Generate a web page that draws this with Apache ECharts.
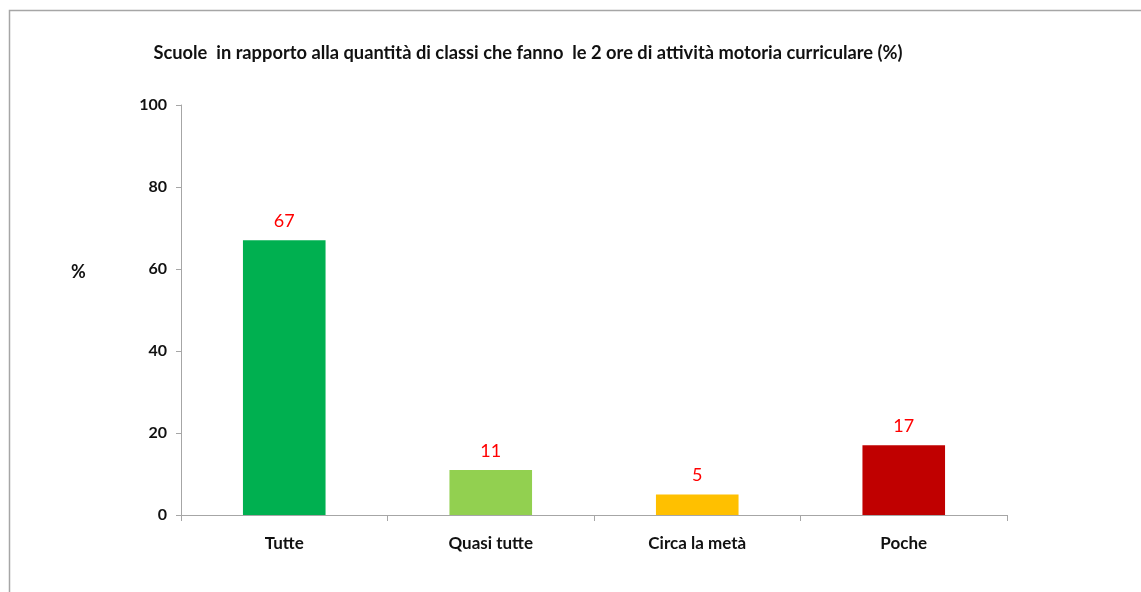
<!DOCTYPE html>
<html>
<head>
<meta charset="utf-8">
<script src="https://cdn.jsdelivr.net/npm/echarts@6/dist/echarts.min.js"></script>
<style>
  html, body { margin: 0; padding: 0; background: #fff; }
  #chart { width: 1141px; height: 592px; }
</style>
</head>
<body>
<div id="chart"></div>
<script>
// chart data
const titleText = "Scuole  in rapporto alla quantità di classi che fanno  le 2 ore di attività motoria curriculare (%)";
const categories = ["Tutte", "Quasi tutte", "Circa la metà", "Poche"];
const values = [67, 11, 5, 17];
const barColors = ["#00b050", "#92d050", "#ffc000", "#c00000"];
const yTicks = [0, 20, 40, 60, 80, 100];

const font = "Lato, 'Open Sans', sans-serif";
const chart = echarts.init(document.getElementById("chart"));

const option = {
  backgroundColor: "#fff",
  animation: false,
  title: {
    text: titleText,
    left: 523,
    top: 39,
    textAlign: "center",
    textStyle: { fontFamily: font, fontSize: 18.3, fontWeight: "bold", color: "#111" }
  },
  graphic: [
    {
      type: "rect",
      shape: { x: 9.5, y: 10.5, width: 1300, height: 800 },
      style: { fill: "none", stroke: "#a6a6a6", lineWidth: 1.5 }
    },
    {
      type: "text",
      left: 71,
      top: 263,
      style: { text: "%", font: "bold 18px " + font, fill: "#111" }
    }
  ],
  grid: { left: 181, right: 134, top: 105, bottom: 77 },
  xAxis: {
    type: "category",
    data: categories,
    axisLine: { lineStyle: { color: "#a6a6a6", width: 1 } },
    axisTick: { show: true, length: 6, lineStyle: { color: "#a6a6a6" } },
    axisLabel: { fontFamily: font, fontSize: 17, fontWeight: "bold", color: "#111", margin: 20 }
  },
  yAxis: {
    type: "value",
    min: yTicks[0],
    max: yTicks[yTicks.length - 1],
    interval: 20,
    axisLine: { show: true, lineStyle: { color: "#a6a6a6", width: 1 } },
    axisTick: { show: true, length: 5, lineStyle: { color: "#a6a6a6" } },
    splitLine: { show: false },
    axisLabel: { fontFamily: font, fontSize: 16, fontWeight: "bold", color: "#111", margin: 14 }
  },
  series: [{
    type: "bar",
    barWidth: "40%",
    data: values.map((v, i) => ({ value: v, itemStyle: { color: barColors[i] } })),
    label: {
      show: true,
      position: "top",
      distance: 10,
      fontFamily: font,
      fontSize: 18,
      color: "#ff0000"
    }
  }]
};

chart.setOption(option);
</script>
</body>
</html>
